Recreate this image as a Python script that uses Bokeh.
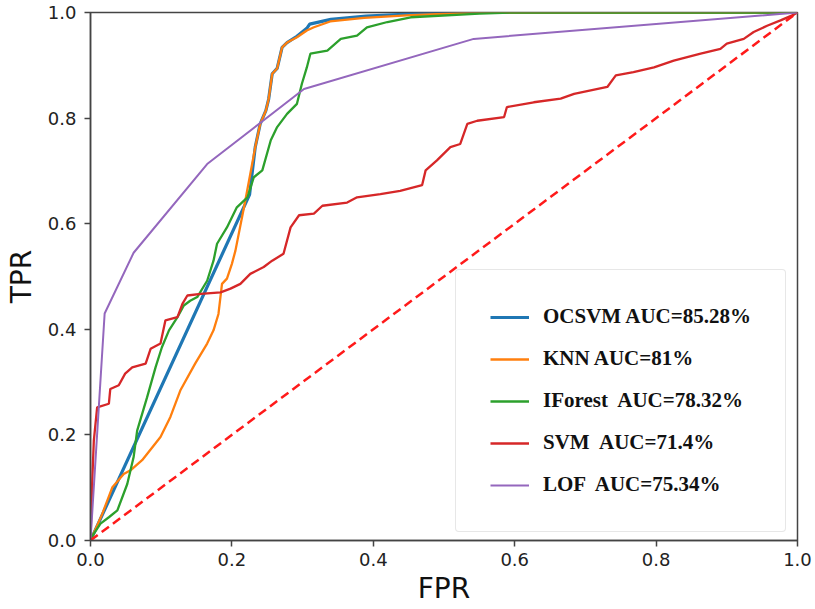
from bokeh.plotting import figure
from bokeh.models import Range1d, FixedTicker, Legend, LegendItem, CustomJSTickFormatter
from bokeh.embed import file_html
from bokeh.resources import INLINE

# ---- data ----
ocsvm_fpr = [0, 0.225, 0.233, 0.240, 0.248, 0.252, 0.257, 0.264, 0.271, 0.278, 0.292, 0.306, 0.31, 0.34, 0.39, 0.45, 0.55, 1.0]
ocsvm_tpr = [0, 0.655, 0.745, 0.789, 0.814, 0.836, 0.884, 0.894, 0.934, 0.943, 0.955, 0.970, 0.978, 0.987, 0.993, 0.997, 1.0, 1.0]

knn_fpr = [0, 0.0165, 0.031, 0.047, 0.0566, 0.073, 0.099, 0.113, 0.127, 0.148, 0.165, 0.174, 0.181, 0.186,
           0.193, 0.200, 0.205, 0.219, 0.226, 0.233, 0.240, 0.248, 0.252, 0.257, 0.264, 0.271, 0.278, 0.292,
           0.306, 0.316, 0.339, 0.387, 0.453, 0.55, 1.0]
knn_tpr = [0, 0.05, 0.101, 0.126, 0.133, 0.152, 0.196, 0.234, 0.284, 0.335, 0.373, 0.398, 0.429, 0.486,
           0.496, 0.524, 0.549, 0.644, 0.694, 0.745, 0.789, 0.814, 0.836, 0.884, 0.894, 0.934, 0.943, 0.953,
           0.966, 0.972, 0.983, 0.990, 0.995, 1.0, 1.0]

iforest_fpr = [0, 0.0141, 0.026, 0.038, 0.052, 0.061, 0.066, 0.080, 0.092, 0.101, 0.111, 0.123, 0.132, 0.141,
               0.151, 0.165, 0.174, 0.179, 0.193, 0.207, 0.222, 0.231, 0.243, 0.255, 0.264, 0.278, 0.292, 0.299,
               0.306, 0.311, 0.335, 0.354, 0.377, 0.391, 0.420, 0.453, 0.55, 0.6, 1.0]
iforest_tpr = [0.003, 0.032, 0.044, 0.057, 0.107, 0.158, 0.208, 0.271, 0.328, 0.366, 0.398, 0.423, 0.445, 0.454,
               0.461, 0.492, 0.530, 0.562, 0.593, 0.631, 0.650, 0.688, 0.701, 0.758, 0.783, 0.808, 0.827, 0.865,
               0.896, 0.922, 0.928, 0.950, 0.956, 0.972, 0.982, 0.991, 0.998, 1.0, 1.0]

svm_fpr = [0, 0.0023, 0.0047, 0.0094, 0.026, 0.028, 0.040, 0.049, 0.059, 0.078, 0.085, 0.099, 0.106, 0.123,
           0.130, 0.137, 0.156, 0.184, 0.198, 0.212, 0.226, 0.245, 0.257, 0.273, 0.283, 0.295, 0.316, 0.328,
           0.363, 0.377, 0.410, 0.438, 0.469, 0.474, 0.490, 0.509, 0.523, 0.533, 0.547, 0.585, 0.589, 0.627,
           0.665, 0.684, 0.731, 0.743, 0.768, 0.797, 0.825, 0.863, 0.891, 0.900, 0.924, 0.938, 0.957, 0.976,
           0.995, 1.0]
svm_tpr = [0, 0.107, 0.189, 0.252, 0.259, 0.287, 0.294, 0.316, 0.328, 0.335, 0.363, 0.373, 0.417, 0.423,
           0.448, 0.464, 0.467, 0.470, 0.477, 0.486, 0.505, 0.518, 0.530, 0.543, 0.593, 0.616, 0.619, 0.634,
           0.640, 0.650, 0.656, 0.662, 0.673, 0.701, 0.720, 0.745, 0.751, 0.789, 0.795, 0.802, 0.821, 0.830,
           0.837, 0.846, 0.859, 0.881, 0.887, 0.896, 0.909, 0.922, 0.931, 0.941, 0.950, 0.963, 0.975, 0.985,
           0.996, 1.0]

lof_fpr = [0, 0.02, 0.061, 0.165, 0.302, 0.542, 1.0]
lof_tpr = [0, 0.43, 0.545, 0.713, 0.855, 0.950, 1.0]

chance_fpr = [0, 1]
chance_tpr = [0, 1]

labels = ["OCSVM AUC=85.28%", "KNN AUC=81%", "IForest  AUC=78.32%", "SVM  AUC=71.4%", "LOF  AUC=75.34%"]
ticks = [0.0, 0.2, 0.4, 0.6, 0.8, 1.0]

p = figure(width=815, height=609, output_backend="svg", toolbar_location=None,
           x_range=Range1d(0, 1), y_range=Range1d(0, 1),
           min_border_left=90, min_border_right=18, min_border_top=12, min_border_bottom=69)
p.background_fill_color = "white"
p.border_fill_color = "white"
p.grid.visible = False
p.outline_line_color = "#444444"
p.outline_line_width = 1.5

fmt = CustomJSTickFormatter(code="return tick.toFixed(1);")
for ax in (p.xaxis[0], p.yaxis[0]):
    ax.ticker = FixedTicker(ticks=ticks)
    ax.formatter = fmt
    ax.minor_tick_line_color = None
    ax.major_tick_out = 6
    ax.major_tick_in = 0
    ax.axis_line_color = "#444444"
    ax.axis_line_width = 1.5
    ax.major_tick_line_color = "#444444"
    ax.major_tick_line_width = 1.5
    ax.major_label_text_font = "DejaVu Sans"
    ax.major_label_text_font_size = "18px"
    ax.major_label_text_color = "#222222"
    ax.axis_label_text_font = "DejaVu Sans"
    ax.axis_label_text_font_size = "28px"
    ax.axis_label_text_font_style = "normal"
    ax.axis_label_text_color = "#111111"

p.xaxis[0].axis_label = "FPR"
p.yaxis[0].axis_label = "TPR"
p.xaxis[0].major_label_standoff = 6
p.yaxis[0].major_label_standoff = 8
p.xaxis[0].axis_label_standoff = 3
p.yaxis[0].axis_label_standoff = 7

r1 = p.line(ocsvm_fpr, ocsvm_tpr, line_color="#1f77b4", line_width=3.2)
r2 = p.line(knn_fpr, knn_tpr, line_color="#ff7f0e", line_width=2.3)
r3 = p.line(iforest_fpr, iforest_tpr, line_color="#2ca02c", line_width=2.3)
r4 = p.line(svm_fpr, svm_tpr, line_color="#d62728", line_width=2.3)
r5 = p.line(lof_fpr, lof_tpr, line_color="#9467bd", line_width=2.0)
p.line(chance_fpr, chance_tpr, line_color="#ff1a1a", line_width=2.5, line_dash="9 5")

legend = Legend(items=[LegendItem(label=l, renderers=[r]) for l, r in zip(labels, [r1, r2, r3, r4, r5])],
                location=(365, 8))
legend.label_text_font = "Liberation Serif"
legend.label_text_font_style = "bold"
legend.label_text_font_size = "21px"
legend.label_text_color = "#111111"
legend.glyph_width = 39
legend.glyph_height = 20
legend.label_height = 20
legend.label_standoff = 14
legend.spacing = 17
legend.padding = 34
legend.margin = 0
legend.border_line_color = "#d0d0d0"
legend.border_line_width = 1.5
legend.background_fill_color = "white"
legend.background_fill_alpha = 1.0
try:
    legend.border_radius = 4
except Exception:
    pass
p.add_layout(legend, "center")

open("out.html", "w").write(file_html(p, INLINE))
